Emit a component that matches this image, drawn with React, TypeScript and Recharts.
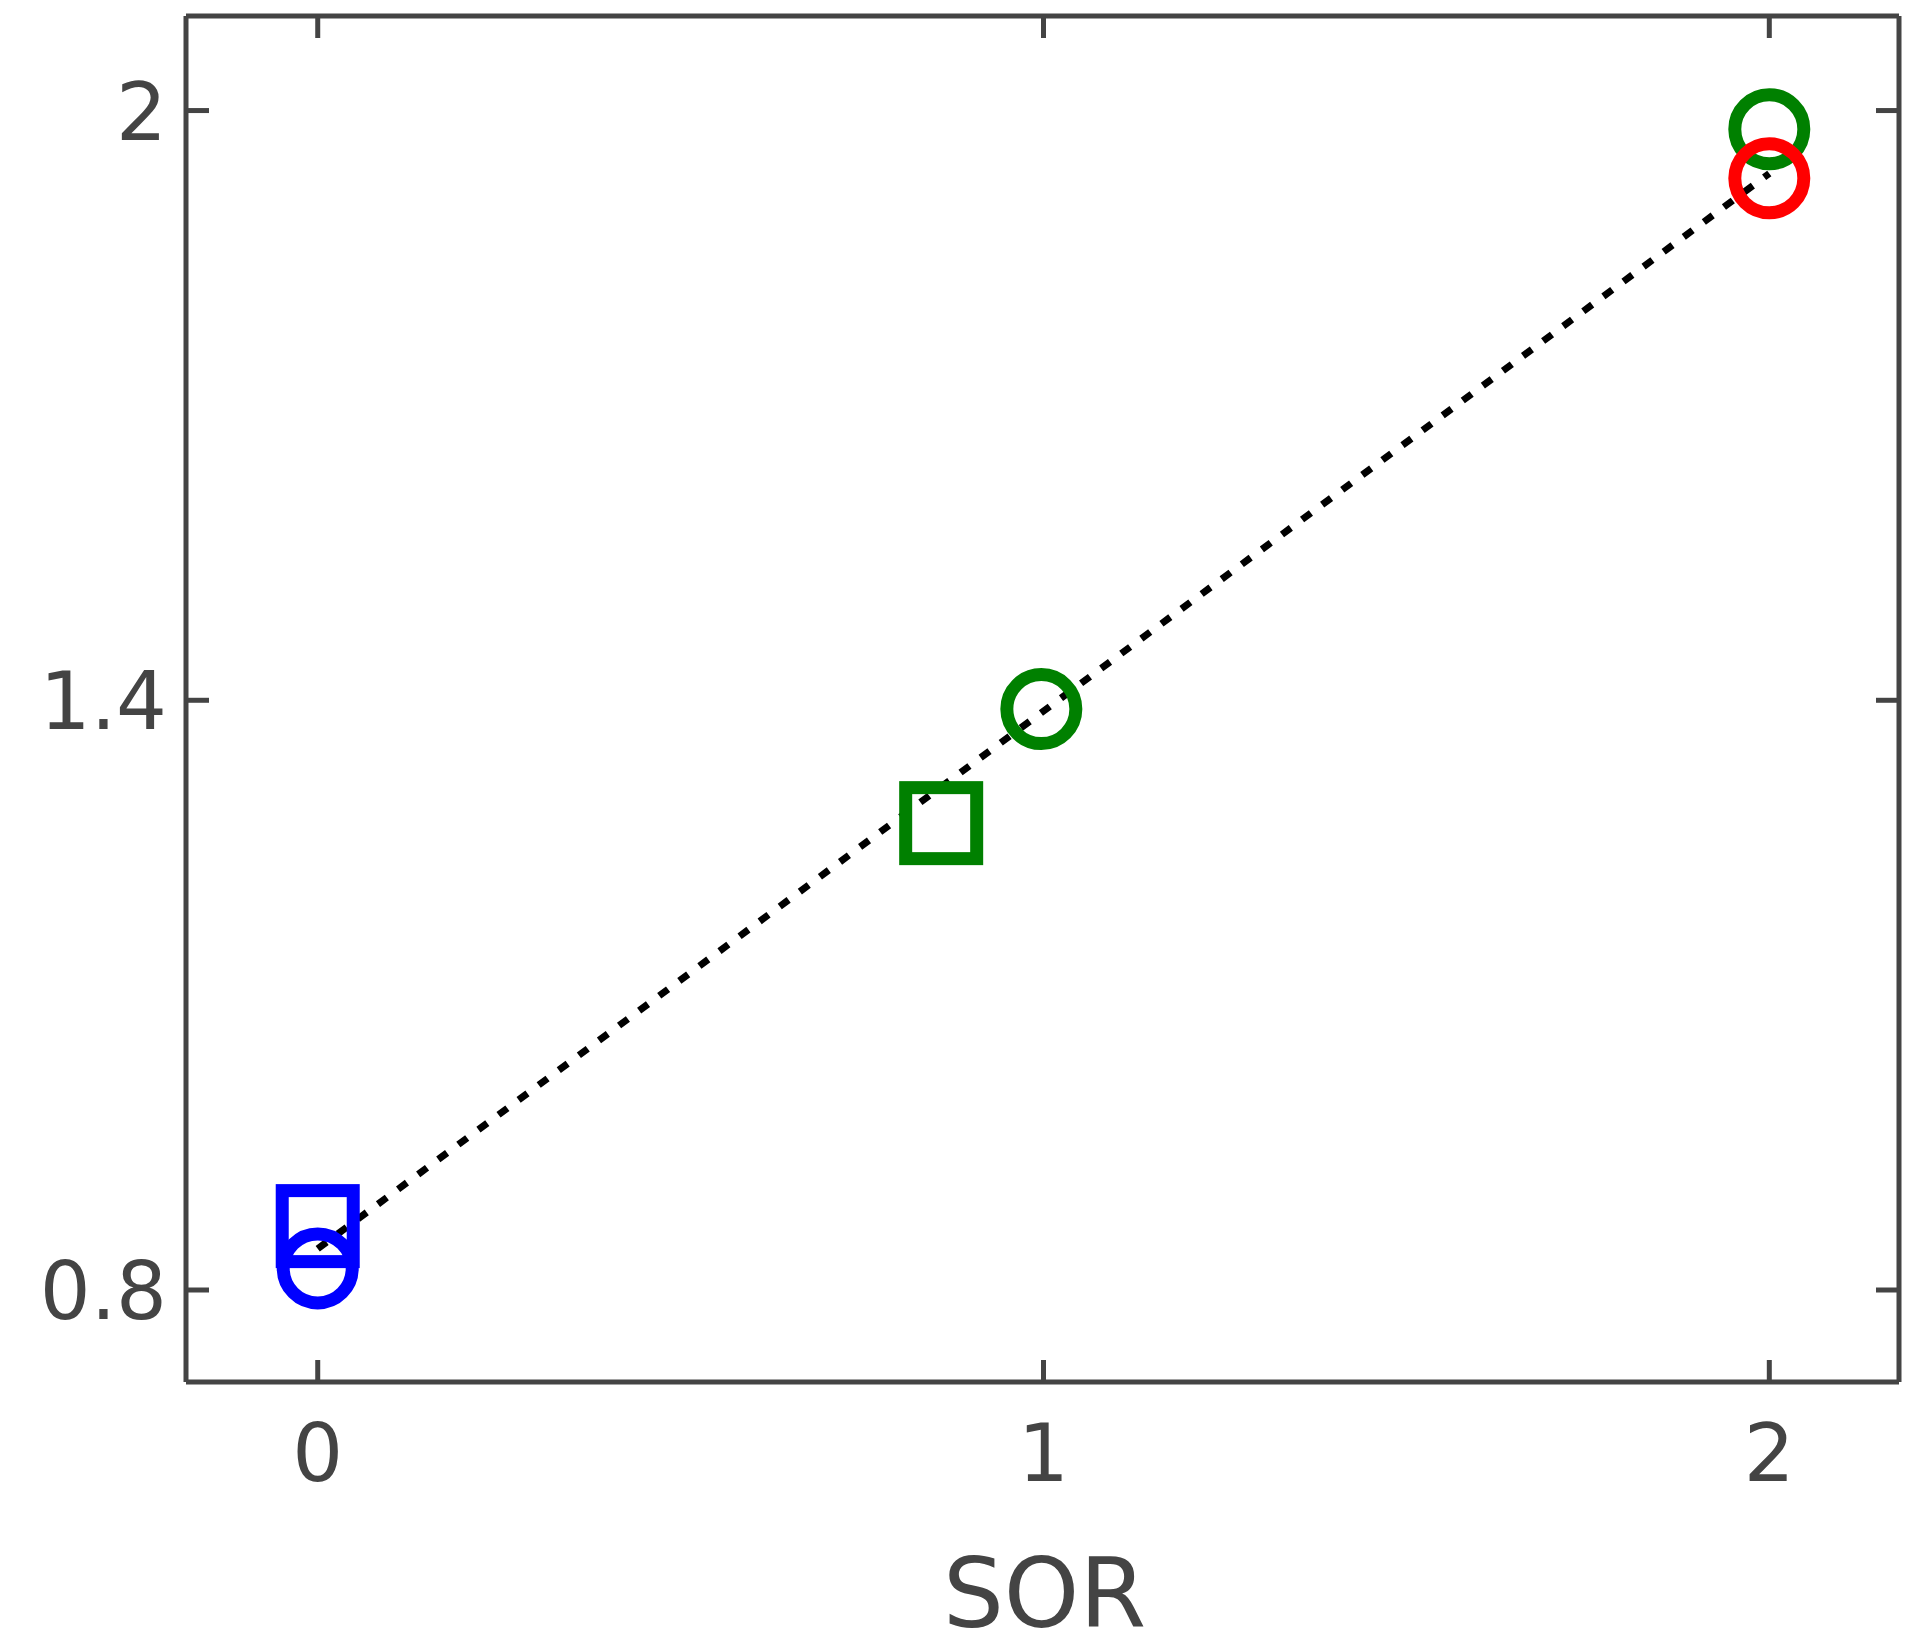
import { Scatter, ScatterChart, XAxis, YAxis } from "recharts";

const xTicks = [0, 1, 2];
const yTicks = [0.8, 1.4, 2];

// dotted fit line
const fitLine = [
  { x: 0, y: 0.842 },
  { x: 2, y: 1.936 },
];
const blueSquare = [{ x: 0, y: 0.865 }];
const blueCircle = [{ x: 0, y: 0.822 }];
const greenSquare = [{ x: 0.859, y: 1.275 }];
const greenCircles = [
  { x: 0.997, y: 1.391 },
  { x: 2, y: 1.981 },
];
const redCircle = [{ x: 2, y: 1.931 }];

const AXIS = "#444444";
const FONT = "'DejaVu Sans', Verdana, sans-serif";
const xDomain = [-0.1815, 2.1787];
const yDomain = [0.7064, 2.0962];

const ring = (color: string) => (props: any) => (
  <circle cx={props.cx} cy={props.cy} r={34.5} fill="none" stroke={color} strokeWidth={13} />
);
const box = (color: string) => (props: any) => (
  <rect x={props.cx - 35.5} y={props.cy - 35.5} width={71} height={71} fill="none" stroke={color} strokeWidth={13} />
);
const noShape = () => <g />;

function BottomTick({ x, y, payload }: any) {
  return (
    <g>
      <line x1={x} y1={y} x2={x} y2={y - 22} stroke={AXIS} strokeWidth={5} />
      <text x={x} y={y + 99} textAnchor="middle" fontSize={80} fontFamily={FONT} fill={AXIS}>
        {payload.value}
      </text>
    </g>
  );
}

function TopTick({ x, y }: any) {
  return <line x1={x} y1={y} x2={x} y2={y + 22} stroke={AXIS} strokeWidth={5} />;
}

function LeftTick({ x, y, payload }: any) {
  return (
    <g>
      <line x1={x} y1={y} x2={x + 23} y2={y} stroke={AXIS} strokeWidth={5} />
      <text x={x - 19} y={y + 29} textAnchor="end" fontSize={80} fontFamily={FONT} fill={AXIS}>
        {payload.value}
      </text>
    </g>
  );
}

function RightTick({ x, y }: any) {
  return <line x1={x} y1={y} x2={x - 23} y2={y} stroke={AXIS} strokeWidth={5} />;
}

function AxisTitle({ viewBox }: any) {
  return (
    <text x={viewBox.x + viewBox.width / 2 + 2} y={viewBox.y + 245} textAnchor="middle" fontSize={96} fontFamily={FONT} fill={AXIS}>
      SOR
    </text>
  );
}

export default function App() {
  const axisLine = { stroke: AXIS, strokeWidth: 5 };
  return (
    <div style={{ position: "absolute", left: 0, top: 0, background: "#fff" }}>
      <ScatterChart width={1905} height={1636} margin={{ top: 15, right: 5, bottom: 0, left: 0 }}>
        <XAxis
          xAxisId="b"
          type="number"
          dataKey="x"
          domain={xDomain}
          allowDataOverflow
          ticks={xTicks}
          height={254}
          tickSize={0}
          tickMargin={0}
          tickLine={false}
          axisLine={axisLine}
          tick={<BottomTick />}
          label={<AxisTitle />}
        />
        <XAxis
          xAxisId="t"
          orientation="top"
          type="number"
          dataKey="x"
          domain={xDomain}
          allowDataOverflow
          ticks={xTicks}
          height={1}
          tickSize={0}
          tickMargin={0}
          tickLine={false}
          axisLine={axisLine}
          tick={<TopTick />}
        />
        <YAxis
          yAxisId="l"
          type="number"
          dataKey="y"
          domain={yDomain}
          allowDataOverflow
          ticks={yTicks}
          width={186}
          tickSize={0}
          tickMargin={0}
          tickLine={false}
          axisLine={axisLine}
          tick={<LeftTick />}
        />
        <YAxis
          yAxisId="r"
          orientation="right"
          type="number"
          dataKey="y"
          domain={yDomain}
          allowDataOverflow
          ticks={yTicks}
          width={1}
          tickSize={0}
          tickMargin={0}
          tickLine={false}
          axisLine={axisLine}
          tick={<RightTick />}
        />
        <Scatter
          xAxisId="b"
          yAxisId="l"
          data={fitLine}
          line={{ stroke: "#000000", strokeWidth: 7, strokeDasharray: "11 14" }}
          shape={noShape}
          isAnimationActive={false}
        />
        <Scatter xAxisId="b" yAxisId="l" data={blueSquare} shape={box("#0000ff")} isAnimationActive={false} />
        <Scatter xAxisId="b" yAxisId="l" data={blueCircle} shape={ring("#0000ff")} isAnimationActive={false} />
        <Scatter xAxisId="b" yAxisId="l" data={greenSquare} shape={box("#008000")} isAnimationActive={false} />
        <Scatter xAxisId="b" yAxisId="l" data={greenCircles} shape={ring("#008000")} isAnimationActive={false} />
        <Scatter xAxisId="b" yAxisId="l" data={redCircle} shape={ring("#ff0000")} isAnimationActive={false} />
      </ScatterChart>
    </div>
  );
}
